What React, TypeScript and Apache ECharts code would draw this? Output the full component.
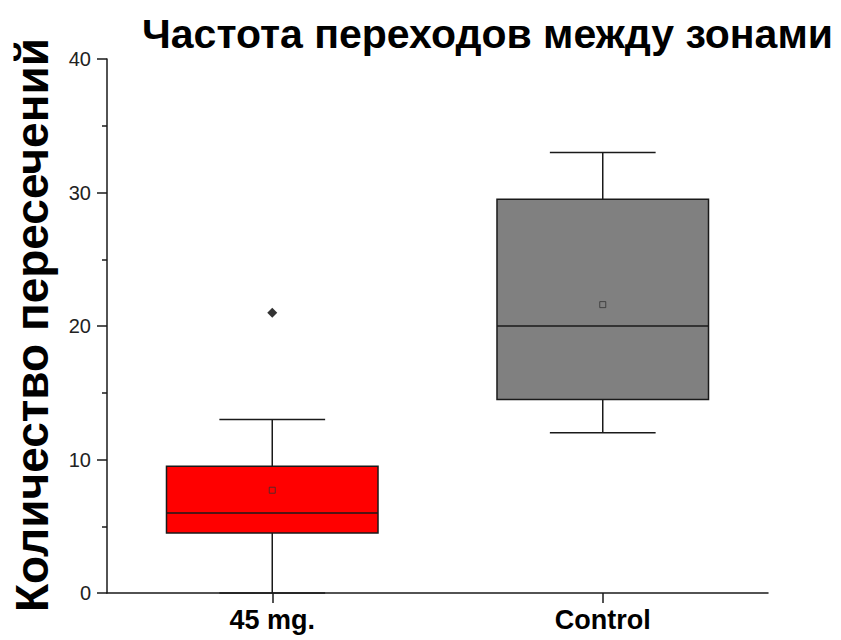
import React, { useEffect, useRef } from "react";
import * as echarts from "echarts";

const categories = ["45 mg.", "Control"];
// [min, q1, median, q3, max]
const boxStats = [
  [0, 4.5, 6, 9.5, 13],
  [12, 14.5, 20, 29.5, 33],
];
const means = [7.7, 21.6];
const outliers = [[0, 21]];
const yTicks = { min: 0, max: 40, interval: 10 };

const title = "Частота переходов между зонами";
const yName = "Количество пересечений";

const boxColors = ["#ff0000", "#808080"];
const FONT = "'Liberation Sans', Arial, sans-serif";
const INK = "#1a1a1a";

export default function App() {
  const ref = useRef<HTMLDivElement>(null);
  useEffect(() => {
    if (!ref.current) return;
    const chart = echarts.init(ref.current, null, { renderer: "svg" });
    const boxData = boxStats.map((s, i) => [i, ...s]);
    chart.setOption({
      animation: false,
      backgroundColor: "#ffffff",
      title: {
        text: title,
        left: 137,
        top: 8,
        textStyle: { fontFamily: FONT, fontWeight: "bold", fontSize: 41, color: "#000" },
      },
      graphic: [
        {
          type: "text",
          x: 32,
          y: 325,
          rotation: Math.PI / 2,
          style: {
            text: yName,
            fontFamily: FONT,
            fontWeight: "bold",
            fontSize: 46,
            fill: "#000",
            align: "center",
            verticalAlign: "middle",
          },
        },
      ],
      grid: { left: 107, right: 73, top: 59, bottom: 47, containLabel: false },
      xAxis: {
        type: "category",
        data: categories,
        boundaryGap: true,
        axisLine: { show: true, lineStyle: { color: INK, width: 1.5 } },
        axisTick: { show: true, inside: false, alignWithLabel: true, length: 10, lineStyle: { color: INK, width: 1.5 } },
        axisLabel: { fontFamily: FONT, fontWeight: "bold", fontSize: 27, color: "#000", margin: 13 },
        splitLine: { show: false },
      },
      yAxis: {
        type: "value",
        min: yTicks.min,
        max: yTicks.max,
        interval: yTicks.interval,
        axisLine: { show: true, lineStyle: { color: INK, width: 1.5 } },
        axisTick: { show: true, inside: false, length: 10, lineStyle: { color: INK, width: 1.5 } },
        minorTick: { show: true, splitNumber: 2, length: 5, lineStyle: { color: INK, width: 1.5 } },
        axisLabel: { fontFamily: FONT, fontSize: 20, color: "#222", margin: 16 },
        splitLine: { show: false },
        minorSplitLine: { show: false },
      },
      series: [
        {
          type: "custom",
          data: boxData,
          encode: { x: 0, y: [1, 2, 3, 4, 5] },
          renderItem: (params: any, api: any) => {
            const idx = api.value(0);
            const band = api.size([1, 0])[0];
            const boxW = band * 0.64;
            const capW = boxW / 2;
            const pMin = api.coord([idx, api.value(1)]);
            const pQ1 = api.coord([idx, api.value(2)]);
            const pMed = api.coord([idx, api.value(3)]);
            const pQ3 = api.coord([idx, api.value(4)]);
            const pMax = api.coord([idx, api.value(5)]);
            const cx = pMed[0];
            const ls = { stroke: INK, lineWidth: 1.5 };
            return {
              type: "group",
              children: [
                { type: "line", shape: { x1: cx, y1: pQ1[1], x2: cx, y2: pMin[1] }, style: ls },
                { type: "line", shape: { x1: cx, y1: pQ3[1], x2: cx, y2: pMax[1] }, style: ls },
                { type: "line", shape: { x1: cx - capW / 2, y1: pMin[1], x2: cx + capW / 2, y2: pMin[1] }, style: ls },
                { type: "line", shape: { x1: cx - capW / 2, y1: pMax[1], x2: cx + capW / 2, y2: pMax[1] }, style: ls },
                {
                  type: "rect",
                  shape: { x: cx - boxW / 2, y: pQ3[1], width: boxW, height: pQ1[1] - pQ3[1] },
                  style: { fill: boxColors[idx], stroke: INK, lineWidth: 1.5 },
                },
                { type: "line", shape: { x1: cx - boxW / 2, y1: pMed[1], x2: cx + boxW / 2, y2: pMed[1] }, style: ls },
              ],
            };
          },
          z: 2,
        },
        {
          type: "scatter",
          data: means.map((m, i) => [i, m]),
          symbol: "rect",
          symbolSize: 6,
          itemStyle: { color: "transparent", borderColor: "#333", borderWidth: 1 },
          z: 3,
        },
        {
          type: "scatter",
          data: outliers,
          symbol: "diamond",
          symbolSize: 10,
          itemStyle: { color: "#000" },
          z: 3,
        },
      ],
    });
    return () => chart.dispose();
  }, []);
  return (
    <div
      ref={ref}
      style={{ position: "fixed", left: 0, top: 0, width: 841, height: 640, background: "#fff" }}
    />
  );
}
